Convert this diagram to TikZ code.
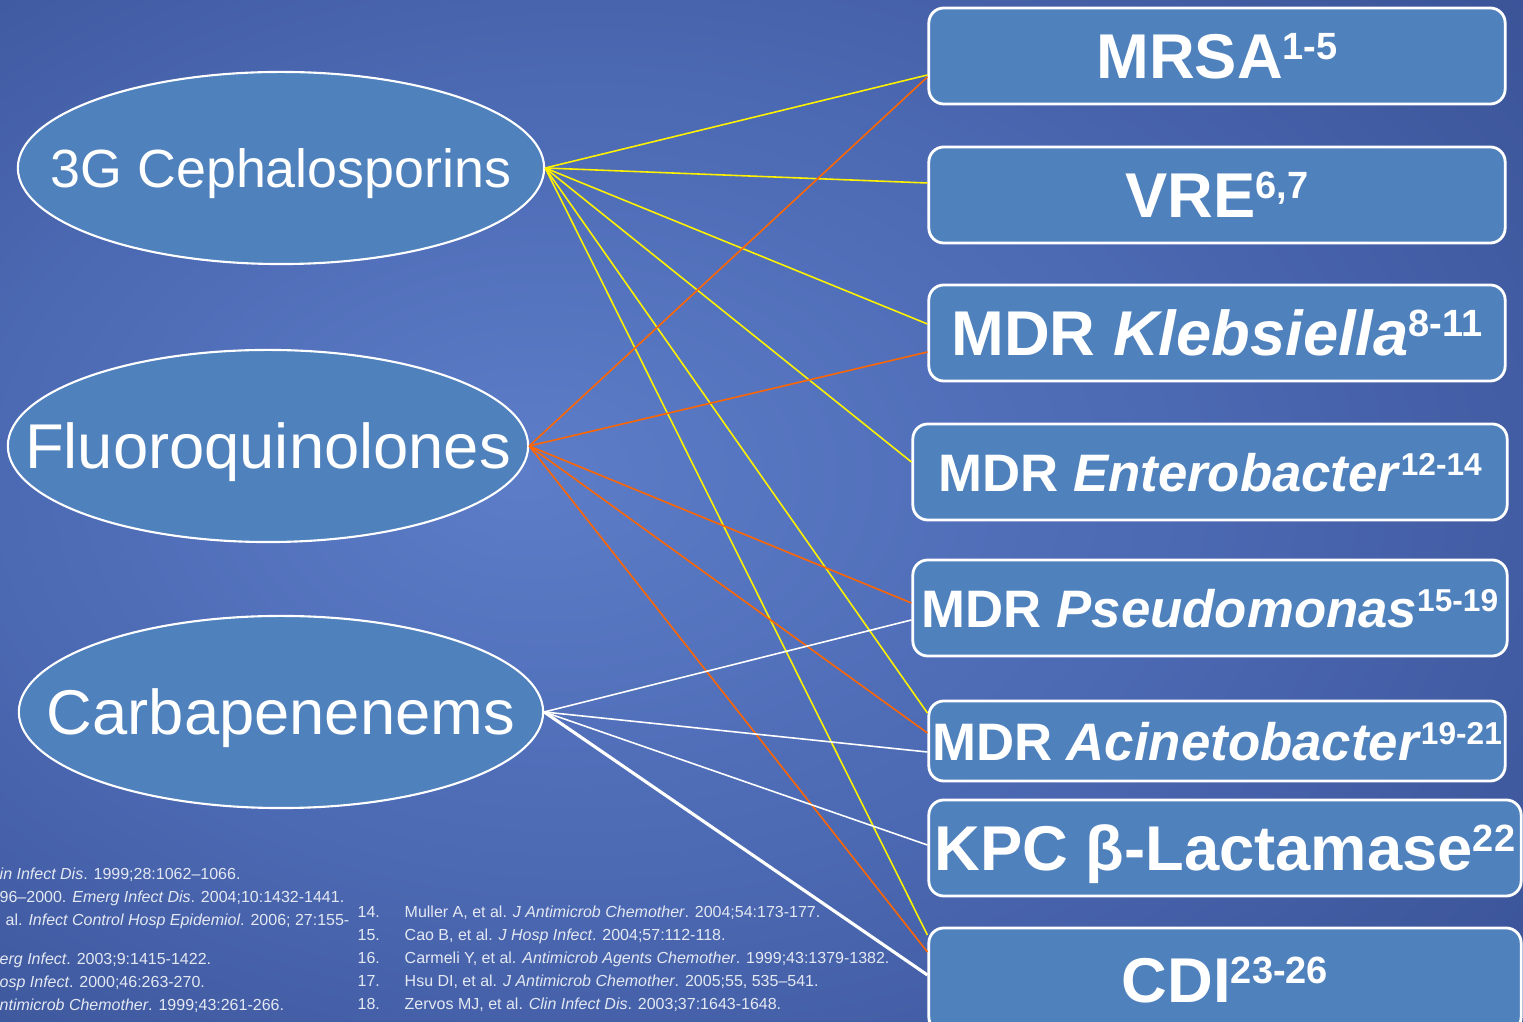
\documentclass[tikz,border=0pt]{standalone}
\usepackage{fontspec}
\setmainfont{Liberation Sans}
\usepackage{tikz}
\usetikzlibrary{shapes.geometric}

\definecolor{boxblue}{HTML}{4F81BD}
\definecolor{bglight}{HTML}{5D7DC8}
\definecolor{bgmid}{HTML}{4B68B2}
\definecolor{bgouter}{HTML}{324889}
\definecolor{bgdark}{HTML}{263773}
\definecolor{reftext}{HTML}{E4E8F2}
\definecolor{fqorange}{RGB}{255,102,0}
\pgfdeclareradialshading{slidebg}{\pgfpoint{-8bp}{2bp}}{color(0bp)=(bglight); color(20bp)=(bgmid); color(48bp)=(bgouter); color(72bp)=(bgdark)}
\newcommand{\refsup}[1]{\raisebox{.3em}{\scalebox{.6}{#1}}}

\begin{document}
\begin{tikzpicture}[x=0.01cm,y=-0.01cm,
            drug/.style={draw=white,line width=0.6pt,fill=boxblue,ellipse,inner sep=0pt,
              minimum width=5.26cm,minimum height=1.92cm,text=white,text depth=0pt},
            bug/.style={draw=white,line width=0.8pt,fill=boxblue,rounded corners=0.15cm,inner sep=0pt,
              minimum height=0.96cm,text=white,text depth=0pt,font=\bfseries\fontsize{18}{18}\selectfont},
            midbug/.style={bug,font=\bfseries\fontsize{15}{15}\selectfont},
            cephline/.style={line width=0.45pt,yellow},
            fqline/.style={line width=0.45pt,fqorange},
            carbline/.style={line width=0.45pt,white},
            ref/.style={text=reftext,font=\fontsize{4.55}{5}\selectfont,inner sep=0pt,anchor=base west}
            ]
            \clip (0,0) rectangle (1523,1022);
            \shade[shading=slidebg] (0,0) rectangle (1523,1022);

            \node[drug,font=\fontsize{15.3}{16}\selectfont] (ceph) at (281,168) {\makebox[0pt]{3G Cephalosporins}};
            \node[drug,minimum width=5.2cm,font=\fontsize{18}{18}\selectfont] (fluoro) at (268,446) {\makebox[0pt]{Fluoroquinolones}};
            \node[drug,minimum width=5.24cm,font=\fontsize{18}{18}\selectfont] (carba) at (281,712) {\makebox[0pt]{Carbapenenems}};

            \node[bug,minimum width=5.76cm] (mrsa) at (1217,56) {MRSA\refsup{1-5}};
            \node[bug,minimum width=5.76cm] (vre) at (1217,195) {VRE\refsup{6,7}};
            \node[bug,minimum width=5.76cm] (kleb) at (1217,333) {MDR \textit{Klebsiella}\refsup{8-11}};
            \node[midbug,minimum width=5.94cm] (entero) at (1210,472) {MDR \textit{Enterobacter}\refsup{12-14}};
            \node[midbug,minimum width=5.94cm] (pseudo) at (1210,608) {MDR \textit{Pseudomonas}\refsup{15-19}};
            \node[midbug,minimum width=5.76cm,minimum height=0.8cm] (acin) at (1217,741) {MDR \textit{Acinetobacter}\refsup{19-21}};
            \node[bug,minimum width=5.92cm] (kpc) at (1225,848) {KPC β-Lactamase\refsup{22}};
            \node[bug,minimum width=5.92cm,minimum height=1.04cm] (cdi) at (1225,980) {CDI\refsup{23-26}};

            \draw[cephline] (ceph.east) -- ([yshift=-0.19cm]mrsa.west);
            \draw[cephline] (ceph.east) -- ([yshift=0.12cm]vre.west);
            \draw[cephline] (ceph.east) -- ([yshift=0.09cm]kleb.west);
            \draw[cephline] (ceph.east) -- ([yshift=0.10cm]entero.west);
            \draw[cephline] (ceph.east) -- ([yshift=0.28cm]acin.west);
            \draw[cephline] (ceph.east) -- ([yshift=0.45cm]cdi.west);

            \draw[fqline] (fluoro.east) -- ([yshift=-0.21cm]mrsa.west);
            \draw[fqline] (fluoro.east) -- ([yshift=-0.19cm]kleb.west);
            \draw[fqline] (fluoro.east) -- ([yshift=0.05cm]pseudo.west);
            \draw[fqline] (fluoro.east) -- ([yshift=0.08cm]acin.west);
            \draw[fqline] (fluoro.east) -- ([yshift=0.28cm]cdi.west);

            \draw[carbline] (carba.east) -- ([yshift=-0.12cm]pseudo.west);
            \draw[carbline] (carba.east) -- ([yshift=-0.11cm]acin.west);
            \draw[carbline] (carba.east) -- ([yshift=0.03cm]kpc.west);
            \draw[carbline,line width=0.9pt] (carba.east) -- ([yshift=0.05cm]cdi.west);

            \node[ref] (ref1) at (-1,880) {\textit{in Infect Dis}. 1999;28:1062–1066.};
            \node[ref] (ref2) at (-1,903) {96–2000. \textit{Emerg Infect Dis}. 2004;10:1432-1441.};
            \node[ref] (ref3) at (5,926) {al. \textit{Infect Control Hosp Epidemiol}. 2006; 27:155-};
            \node[ref] (ref5) at (-1,965) {\textit{erg Infect}. 2003;9:1415-1422.};
            \node[ref] (ref6) at (-1,988) {\textit{osp Infect}. 2000;46:263-270.};
            \node[ref] (ref7) at (-1,1011) {\textit{ntimicrob Chemother}. 1999;43:261-266.};

            \node[ref] (n14) at (357,918) {14.};
            \node[ref] (n15) at (357,941) {15.};
            \node[ref] (n16) at (357,964) {16.};
            \node[ref] (n17) at (357,987) {17.};
            \node[ref] (n18) at (357,1010) {18.};
            \node[ref] (ref14) at (404,918) {Muller A, et al. \textit{J Antimicrob Chemother}. 2004;54:173-177.};
            \node[ref] (ref15) at (404,941) {Cao B, et al. \textit{J Hosp Infect}. 2004;57:112-118.};
            \node[ref] (ref16) at (404,964) {Carmeli Y, et al. \textit{Antimicrob Agents Chemother}. 1999;43:1379-1382.};
            \node[ref] (ref17) at (404,987) {Hsu DI, et al. \textit{J Antimicrob Chemother}. 2005;55, 535–541.};
            \node[ref] (ref18) at (404,1010) {Zervos MJ, et al. \textit{Clin Infect Dis}. 2003;37:1643-1648.};
        \end{tikzpicture}
\end{document}
